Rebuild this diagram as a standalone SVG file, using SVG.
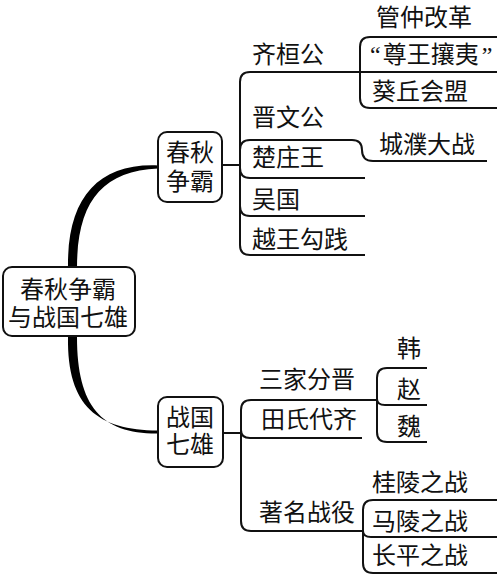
<svg xmlns="http://www.w3.org/2000/svg" width="500" height="578" viewBox="0 0 500 578">
<style>
  text { font-family: "Noto Sans CJK SC", "Noto Sans", sans-serif; font-size: 24px; fill: #111; }
  .q { font-family: "Liberation Serif", "Noto Sans CJK SC", serif; }
  .m { text-anchor: middle; }
  .box { fill: #fff; stroke: #111; stroke-width: 2; }
  .ln { fill: none; stroke: #111; stroke-width: 2; }
  .trunk { fill: #000; stroke: none; }
</style>
<rect width="500" height="578" fill="#fff"/>
<g id="connectors">
  <path class="trunk" d="M68,268 C67,198 98,163 158,165.5 L158,168.5 C102,171 77,202 77,268 Z"/>
  <path class="trunk" d="M68,337 C67,407 98,430 158,430.5 L158,433.5 C102,434 77,407 77,337 Z"/>
  <path class="ln" d="M222,165 H240"/>
  <path class="ln" d="M240,165 V82 Q240,72 250,72 H360"/>
  <path class="ln" d="M240,165 V150 Q240,140 250,140 H352 Q362,140 362,150 Q362,161 373,161 H487"/>
  <path class="ln" d="M240,165 V168 Q240,178 250,178 H365"/>
  <path class="ln" d="M240,165 V206 Q240,216 250,216 H365"/>
  <path class="ln" d="M240,165 V245 Q240,255 250,255 H365"/>
  <path class="ln" d="M360,72 V47 Q360,37 370,37 H497"/>
  <path class="ln" d="M360,72 H497"/>
  <path class="ln" d="M360,72 V98 Q360,108 370,108 H497"/>
  <path class="ln" d="M223,433 H241"/>
  <path class="ln" d="M241,433 V410 Q241,400 251,400 H377"/>
  <path class="ln" d="M241,430 Q241,438 250,438 H362"/>
  <path class="ln" d="M241,433 V521 Q241,531 251,531 H363"/>
  <path class="ln" d="M377,399 V378 Q377,368 387,368 H427"/>
  <path class="ln" d="M377,399 Q377,405 385,405 H427"/>
  <path class="ln" d="M377,399 V432 Q377,442 387,442 H427"/>
  <path class="ln" d="M363,531 V510 Q363,500 373,500 H497"/>
  <path class="ln" d="M363,531 Q363,537 371,537 H497"/>
  <path class="ln" d="M363,531 V563 Q363,573 373,573 H497"/>
</g>
<g id="root">
  <rect class="box" x="3" y="267" width="132" height="69" rx="9"/>
  <text class="m" x="68" y="298">春秋争霸</text>
  <text class="m" x="68" y="326">与战国七雄</text>
</g>
<g id="chunqiu">
  <rect class="box" x="158" y="132" width="64" height="70" rx="9"/>
  <text class="m" x="190" y="161">春秋</text>
  <text class="m" x="190" y="190">争霸</text>
</g>
<g id="zhanguo">
  <rect class="box" x="158" y="397" width="65" height="70" rx="9"/>
  <text class="m" x="190" y="426">战国</text>
  <text class="m" x="190" y="453">七雄</text>
</g>
<g id="qihuangong"><text x="252" y="63">齐桓公</text></g>
<g id="guanzhong"><text x="376" y="26">管仲改革</text></g>
<g id="zunwang"><text class="q" x="370" y="63">“<tspan dx="2">尊王攘夷</tspan><tspan dx="3">”</tspan></text></g>
<g id="kuiqiu"><text x="372" y="100">葵丘会盟</text></g>
<g id="jinwengong"><text x="252" y="126">晋文公</text></g>
<g id="chengpu"><text x="379" y="153">城濮大战</text></g>
<g id="chuzhuangwang"><text x="252" y="166">楚庄王</text></g>
<g id="wuguo"><text x="252" y="208">吴国</text></g>
<g id="yuewang"><text x="252" y="248">越王勾践</text></g>
<g id="sanjia"><text x="259" y="388">三家分晋</text></g>
<g id="han"><text class="m" x="409" y="357">韩</text></g>
<g id="zhao"><text class="m" x="409" y="398">赵</text></g>
<g id="wei"><text class="m" x="409" y="435">魏</text></g>
<g id="tianshi"><text x="261" y="428">田氏代齐</text></g>
<g id="zhuming"><text x="259" y="521">著名战役</text></g>
<g id="guiling"><text x="372" y="491">桂陵之战</text></g>
<g id="maling"><text x="372" y="530">马陵之战</text></g>
<g id="changping"><text x="372" y="564">长平之战</text></g>
</svg>
